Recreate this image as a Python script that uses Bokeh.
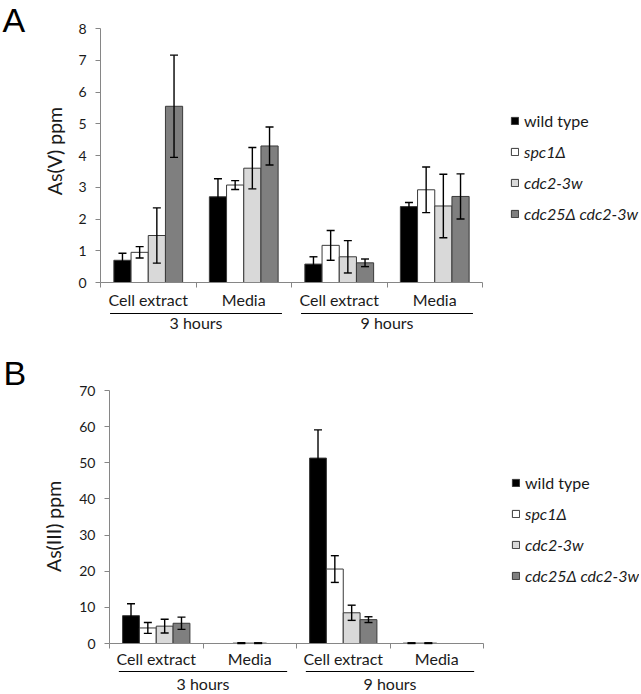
import math
from bokeh.plotting import figure
from bokeh.layouts import column
from bokeh.models import (ColumnDataSource, Range1d, LinearAxis, FixedTicker, Whisker,
                          TeeHead, Legend, LegendItem, Label)
from bokeh.core.properties import value
from bokeh.embed import file_html
from bokeh.resources import INLINE

# ---------------- data ----------------
groups = ["3 hours", "9 hours"]
conditions = ["Cell extract", "Media", "Cell extract", "Media"]
strains = ["wild type", "spc1\u0394", "cdc2-3w", "cdc25\u0394 cdc2-3w"]
colors = ["#000000", "#ffffff", "#d9d9d9", "#7f7f7f"]

# As(V) ppm, order: 3h Cell extract, 3h Media, 9h Cell extract, 9h Media
asv_wt = [0.70, 2.70, 0.58, 2.39]
asv_wt_err = [0.22, 0.57, 0.23, 0.13]
asv_spc1 = [0.95, 3.07, 1.17, 2.92]
asv_spc1_err = [0.18, 0.14, 0.47, 0.72]
asv_cdc2 = [1.48, 3.60, 0.81, 2.41]
asv_cdc2_err = [0.87, 0.65, 0.51, 1.00]
asv_cdc25 = [5.55, 4.30, 0.62, 2.71]
asv_cdc25_err = [1.61, 0.60, 0.12, 0.71]

# As(III) ppm
as3_wt = [7.7, 0.0, 51.3, 0.1]
as3_wt_err = [3.3, 0.0, 7.8, 0.1]
as3_spc1 = [4.3, 0.1, 20.6, 0.1]
as3_spc1_err = [1.5, 0.1, 3.7, 0.1]
as3_cdc2 = [4.8, 0.1, 8.5, 0.0]
as3_cdc2_err = [1.9, 0.1, 2.1, 0.0]
as3_cdc25 = [5.6, 0.0, 6.6, 0.0]
as3_cdc25_err = [1.7, 0.0, 0.8, 0.0]

asv_ticks = [0, 1, 2, 3, 4, 5, 6, 7, 8]
as3_ticks = [0, 10, 20, 30, 40, 50, 60, 70]

FONT = "Lato"
AXIS_GRAY = "#868686"
BAR_W = 0.18
W = 639
ORIGIN = 1  # observed page position of the figure's top-left corner


def make_panel(letter, ylabel, vals, errs, yticks, height, top_page,
               x0_page, xscale, y0_page, yscale, ymax,
               cat_dy, line_dy, grp_dy, title_dx, title_y, letter_x, letter_base,
               leg_x, leg_row1):
    left_page = ORIGIN
    x_start = -(x0_page - left_page) / xscale
    x_end = (left_page + W - x0_page) / xscale
    y_end = (y0_page - top_page) / yscale
    y_start = -(top_page + height - y0_page) / yscale
    p = figure(width=W, height=height, x_range=Range1d(x_start, x_end),
               y_range=Range1d(y_start, y_end), output_backend="svg",
               toolbar_location=None, x_axis_location=None, y_axis_location=None,
               min_border=0)
    p.outline_line_color = None
    p.background_fill_color = "white"
    p.grid.visible = False

    # y axis
    yax = LinearAxis(fixed_location=0, bounds=(0, ymax), ticker=FixedTicker(ticks=yticks))
    yax.axis_line_color = AXIS_GRAY
    yax.major_tick_line_color = AXIS_GRAY
    yax.major_tick_in = 0
    yax.major_tick_out = 5
    yax.minor_tick_line_color = None
    yax.major_label_standoff = 9
    yax.major_label_text_font = FONT
    yax.major_label_text_font_size = "14px"
    yax.major_label_text_color = "#1a1a1a"
    p.add_layout(yax, "left")

    # x baseline axis (category boundaries)
    xax = LinearAxis(fixed_location=0, bounds=(0, 4),
                     ticker=FixedTicker(ticks=[0, 1, 2, 3, 4]))
    xax.axis_line_color = AXIS_GRAY
    xax.major_tick_line_color = AXIS_GRAY
    xax.major_tick_in = 5
    xax.major_tick_out = 0
    xax.minor_tick_line_color = None
    xax.major_label_standoff = 0
    xax.major_label_text_alpha = 0
    xax.major_label_text_font_size = "1px"
    p.add_layout(xax, "above")

    renderers = []
    for i, (v, c) in enumerate(zip(vals, colors)):
        xs = [k + 0.5 + (i - 1.5) * BAR_W for k in range(len(conditions))]
        src = ColumnDataSource(dict(x=xs, top=v))
        r = p.vbar(x="x", top="top", bottom=0, width=BAR_W, source=src,
                   fill_color=c, line_color="#3a3a3a", line_width=1)
        renderers.append(r)

    for i, (v, e) in enumerate(zip(vals, errs)):
        xs, up, lo = [], [], []
        for k in range(len(conditions)):
            if e[k] > 0:
                xs.append(k + 0.5 + (i - 1.5) * BAR_W)
                up.append(v[k] + e[k])
                lo.append(v[k] - e[k])
        wsrc = ColumnDataSource(dict(x=xs, upper=up, lower=lo))
        w = Whisker(source=wsrc, base="x", upper="upper", lower="lower",
                    line_color="black", line_width=1.4, level="overlay",
                    upper_head=TeeHead(size=8, line_color="black", line_width=1.4),
                    lower_head=TeeHead(size=8, line_color="black", line_width=1.4))
        p.add_layout(w)

    cat_y = -cat_dy / yscale
    line_y = -line_dy / yscale
    grp_y = -grp_dy / yscale
    # category labels
    p.text(x=[k + 0.5 for k in range(len(conditions))], y=[cat_y] * len(conditions),
           text=conditions, text_align="center", text_baseline="alphabetic",
           text_font=value(FONT), text_font_size="16px", text_color="#1a1a1a")
    # group underlines and labels
    p.segment(x0=[2 * g + 0.1 for g in range(len(groups))],
              x1=[2 * g + 1.9 for g in range(len(groups))],
              y0=[line_y] * len(groups), y1=[line_y] * len(groups),
              line_color="black", line_width=1.2)
    p.text(x=[2 * g + 1 for g in range(len(groups))], y=[grp_y] * len(groups),
           text=groups, text_align="center", text_baseline="alphabetic",
           text_font=value(FONT), text_font_size="16px", text_color="#1a1a1a")

    # axis title (screen x relative to frame left)
    p.add_layout(Label(x=x0_page - left_page + title_dx, y=title_y,
                       x_units="screen", y_units="data",
                       text=ylabel, angle=math.pi / 2, text_align="center",
                       text_baseline="middle", text_font=FONT,
                       text_font_size="19.5px", text_color="#1a1a1a"))
    # panel letter
    p.add_layout(Label(x=letter_x - left_page, y=top_page + height - letter_base,
                       x_units="screen", y_units="screen",
                       text=letter, text_align="left", text_baseline="alphabetic",
                       text_font="Liberation Sans", text_font_size="34px",
                       text_color="black"))

    common = dict(border_line_color=None, background_fill_alpha=0, padding=0,
                  margin=0, spacing=11, glyph_width=9, glyph_height=9,
                  label_height=20, label_standoff=5, label_text_font=FONT,
                  label_text_font_size="16px", label_text_color="#1a1a1a")
    bottom_page = top_page + height
    lx = leg_x - left_page
    leg1 = Legend(items=[LegendItem(label=strains[0], renderers=[renderers[0]])],
                  location=(lx, bottom_page - (leg_row1 - 10 + 20)),
                  label_text_font_style="normal", **common)
    leg2 = Legend(items=[LegendItem(label=s, renderers=[r])
                         for s, r in zip(strains[1:], renderers[1:])],
                  location=(lx, bottom_page - (leg_row1 + 31 - 10 + 82)),
                  label_text_font_style="italic", **common)
    p.add_layout(leg1)
    p.add_layout(leg2)
    return p


hA, hB = 341, 351
# Panel A: axis page x 101, x-unit 95.5px; y=0 at page 283, 31.75 px/unit
pA = make_panel("A", "As(V) ppm",
                [asv_wt, asv_spc1, asv_cdc2, asv_cdc25],
                [asv_wt_err, asv_spc1_err, asv_cdc2_err, asv_cdc25_err],
                asv_ticks, hA, ORIGIN, 101, 95.5, 283, 254 / 8.0, 8,
                16.5, 31, 39.5, -46.5, 4.14, 3, 20, 511, 121)

# Panel B: axis page x 110, x-unit 93.5px; y=0 at page 644, 3.614 px/unit
pB = make_panel("B", "As(III) ppm",
                [as3_wt, as3_spc1, as3_cdc2, as3_cdc25],
                [as3_wt_err, as3_spc1_err, as3_cdc2_err, as3_cdc25_err],
                as3_ticks, hB, ORIGIN + hA, 110, 93.5, 644, 253 / 70.0, 70,
                15, 28, 39.5, -56, 32.4, 4, 373, 512, 483)

layout = column(pA, pB, spacing=0)
open("out.html", "w").write(file_html(layout, INLINE))
